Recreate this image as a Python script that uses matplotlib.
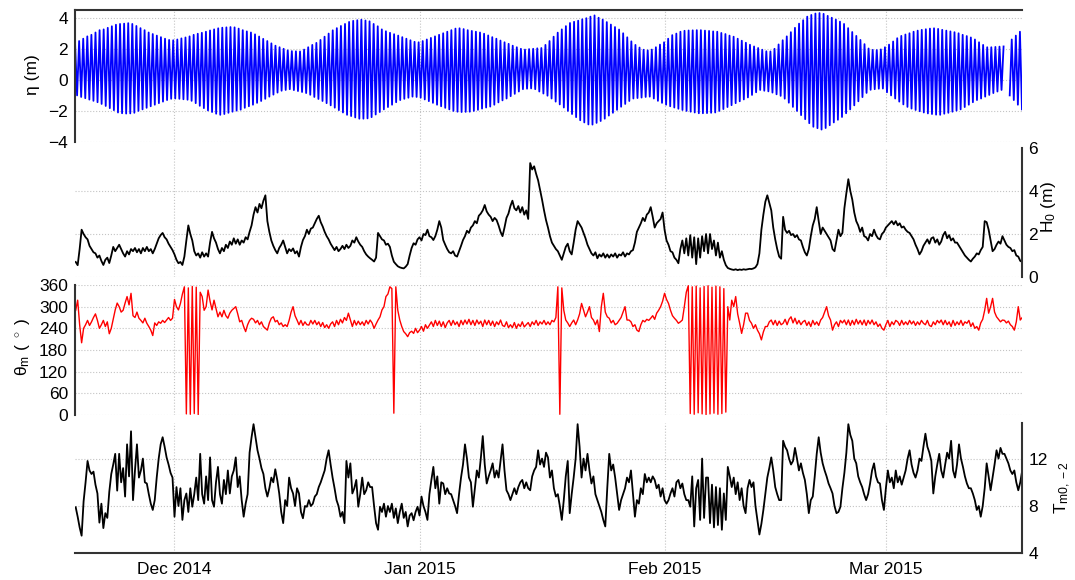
import numpy as np
import pandas as pd
import matplotlib
matplotlib.use('Agg')
import matplotlib.pyplot as plt
import matplotlib.dates as mdates

plt.rcParams['font.family'] = ['Liberation Sans', 'DejaVu Sans']
plt.rcParams['mathtext.fontset'] = 'custom'
plt.rcParams['mathtext.rm'] = 'Liberation Sans'
plt.rcParams['mathtext.it'] = 'Liberation Sans:italic'

# Tide: high and low water level of each tide (m), first high water 18 Nov 2014 10:00
tide_hw = [
    2.4, 2.5, 2.65, 2.8, 2.9, 3.05, 3.2, 3.25, 3.35, 3.45,
    3.55, 3.6, 3.62, 3.65, 3.6, 3.47, 3.33, 3.2, 3.05, 2.95,
    2.85, 2.75, 2.65, 2.57, 2.55, 2.6, 2.67, 2.73, 2.8, 2.9,
    2.97, 3.03, 3.1, 3.18, 3.25, 3.32, 3.36, 3.38, 3.4, 3.38,
    3.3, 3.2, 3.12, 3.05, 2.93, 2.79, 2.64, 2.5, 2.35, 2.2,
    2.1, 2.0, 1.9, 1.85, 1.84, 1.83, 1.95, 2.1, 2.25, 2.38,
    2.57, 2.78, 2.98, 3.19, 3.33, 3.47, 3.6, 3.73, 3.8, 3.84,
    3.87, 3.82, 3.77, 3.6, 3.45, 3.25, 3.13, 3.03, 2.94, 2.85,
    2.75, 2.65, 2.55, 2.45, 2.42, 2.5, 2.6, 2.7, 2.8, 2.9,
    3.0, 3.1, 3.2, 3.3, 3.32, 3.27, 3.2, 3.15, 3.1, 3.05,
    2.97, 2.86, 2.75, 2.65, 2.53, 2.42, 2.32, 2.2, 2.1, 2.0,
    1.95, 1.98, 2.0, 2.03, 2.05, 2.25, 2.5, 2.78, 3.04, 3.25,
    3.46, 3.66, 3.74, 3.81, 3.9, 3.97, 4.07, 4.15, 4.0, 3.88,
    3.72, 3.56, 3.4, 3.24, 3.0, 2.74, 2.48, 2.25, 2.08, 1.94,
    1.9, 1.95, 2.1, 2.27, 2.42, 2.65, 2.88, 2.98, 3.1, 3.16,
    3.18, 3.19, 3.2, 3.2, 3.17, 3.15, 3.12, 3.1, 3.02, 2.95,
    2.85, 2.78, 2.65, 2.52, 2.39, 2.26, 2.15, 2.05, 1.94, 1.84,
    1.83, 2.0, 2.28, 2.55, 2.8, 3.07, 3.35, 3.62, 3.84, 4.07,
    4.18, 4.27, 4.3, 4.25, 4.12, 4.0, 3.88, 3.75, 3.6, 3.33,
    3.08, 2.83, 2.57, 2.3, 2.02, 1.93, 1.92, 1.96, 2.1, 2.27,
    2.47, 2.68, 2.83, 2.92, 3.0, 3.1, 3.17, 3.22, 3.26, 3.3,
    3.32, 3.28, 3.22, 3.17, 3.12, 3.07, 3.0, 2.9, 2.82, 2.73,
    2.6, 2.42, 2.25, 2.1, 2.1, 2.12, 2.14, 2.15, np.nan, 2.6,
    2.85, 3.1]
tide_lw = [
    -1.0, -1.1, -1.18, -1.27, -1.35, -1.44, -1.55, -1.68, -1.82, -1.95,
    -2.1, -2.15, -2.17, -2.16, -2.12, -2.0, -1.9, -1.8, -1.7, -1.6,
    -1.5, -1.4, -1.3, -1.22, -1.2, -1.22, -1.25, -1.28, -1.35, -1.5,
    -1.67, -1.82, -1.97, -2.07, -2.18, -2.25, -2.2, -2.12, -2.05, -1.98,
    -1.92, -1.8, -1.7, -1.6, -1.48, -1.36, -1.22, -1.08, -0.95, -0.82,
    -0.7, -0.65, -0.6, -0.66, -0.72, -0.78, -0.85, -0.96, -1.1, -1.23,
    -1.36, -1.5, -1.64, -1.79, -1.95, -2.1, -2.25, -2.33, -2.42, -2.5,
    -2.5, -2.48, -2.4, -2.23, -2.07, -1.9, -1.75, -1.6, -1.44, -1.3,
    -1.22, -1.15, -1.08, -1.1, -1.15, -1.26, -1.37, -1.48, -1.6, -1.7,
    -1.8, -1.9, -2.0, -2.05, -2.07, -2.06, -2.05, -2.0, -1.93, -1.85,
    -1.78, -1.72, -1.6, -1.45, -1.32, -1.2, -1.05, -0.9, -0.75, -0.6,
    -0.57, -0.55, -0.6, -0.75, -0.88, -1.02, -1.2, -1.4, -1.58, -1.78,
    -2.0, -2.2, -2.4, -2.6, -2.74, -2.87, -2.88, -2.77, -2.65, -2.5,
    -2.3, -2.12, -1.93, -1.73, -1.55, -1.36, -1.2, -1.17, -1.14, -1.1,
    -1.08, -1.2, -1.35, -1.48, -1.6, -1.7, -1.78, -1.86, -1.94, -2.0,
    -2.05, -2.1, -2.15, -2.15, -2.14, -2.12, -2.1, -2.0, -1.88, -1.75,
    -1.63, -1.5, -1.38, -1.26, -1.13, -0.97, -0.8, -0.65, -0.7, -0.74,
    -0.82, -0.93, -1.03, -1.21, -1.47, -1.74, -2.0, -2.27, -2.53, -2.79,
    -3.02, -3.11, -3.2, -3.1, -2.92, -2.74, -2.57, -2.39, -2.15, -1.9,
    -1.64, -1.38, -1.11, -0.84, -0.64, -0.6, -0.57, -0.56, -0.8, -1.0,
    -1.2, -1.4, -1.58, -1.74, -1.85, -1.94, -2.02, -2.1, -2.16, -2.2,
    -2.24, -2.25, -2.18, -2.12, -2.05, -1.98, -1.9, -1.75, -1.6, -1.44,
    -1.3, -1.2, -1.08, -0.97, -0.85, -0.75, -0.65, np.nan, -1.0, -1.3,
    -1.6, -1.9]

# Wave height H0 (m), 6-hourly from 18 Nov 2014 12:00
h0 = [
    0.7, 0.55, 1.3, 2.2, 2.0, 1.85, 1.75, 1.45, 1.3, 1.15,
    1.1, 0.9, 1.0, 0.75, 0.56, 0.8, 0.9, 0.65, 1.0, 1.4,
    1.2, 1.35, 1.5, 1.3, 1.1, 0.95, 1.2, 1.05, 1.3, 1.2,
    1.35, 1.15, 1.3, 1.1, 1.35, 1.2, 1.4, 1.2, 1.3, 1.1,
    1.3, 1.55, 1.8, 1.95, 2.05, 1.85, 1.75, 1.55, 1.4, 1.25,
    1.05, 0.8, 0.64, 0.7, 0.56, 0.95, 1.7, 2.4, 2.0, 1.7,
    1.2, 1.0, 1.1, 0.9, 1.15, 0.95, 1.1, 0.95, 1.6, 2.1,
    1.8, 1.6, 1.3, 1.1, 1.35, 1.2, 1.5, 1.35, 1.65, 1.5,
    1.8, 1.55, 1.75, 1.5, 1.7, 1.6, 1.85, 1.75, 2.1, 2.4,
    2.9, 3.25, 3.0, 3.4, 3.2, 3.55, 3.8, 2.6, 2.1, 1.7,
    1.45, 1.25, 1.1, 1.35, 1.5, 1.7, 1.4, 1.1, 1.3, 1.2,
    1.33, 1.1, 1.2, 0.95, 1.4, 1.72, 1.9, 2.2, 2.0, 2.25,
    2.3, 2.5, 2.7, 2.85, 2.55, 2.35, 2.1, 1.9, 1.75, 1.55,
    1.4, 1.25, 1.4, 1.2, 1.3, 1.45, 1.3, 1.5, 1.35, 1.45,
    1.7, 1.6, 1.85, 1.65, 1.5, 1.4, 1.2, 1.05, 0.95, 0.87,
    0.8, 0.72, 0.9, 2.05, 1.9, 1.75, 1.7, 1.5, 1.55, 1.4,
    1.0, 0.71, 0.6, 0.5, 0.45, 0.42, 0.4, 0.48, 0.6, 1.0,
    1.35, 1.57, 1.5, 1.75, 1.85, 1.7, 2.0, 1.95, 2.2, 1.9,
    1.85, 1.72, 1.9, 2.2, 2.6, 2.3, 1.72, 1.5, 1.3, 1.15,
    1.1, 1.2, 1.0, 0.95, 1.2, 1.45, 1.72, 1.9, 2.15, 2.05,
    2.3, 2.4, 2.6, 2.5, 2.85, 2.95, 3.1, 3.35, 3.05, 2.9,
    2.8, 2.6, 2.75, 2.65, 2.4, 2.1, 1.9, 2.3, 2.75, 2.95,
    3.3, 3.55, 3.2, 3.1, 3.3, 3.0, 3.25, 2.9, 3.1, 2.7,
    5.3, 5.0, 5.15, 4.8, 4.5, 4.05, 3.6, 3.1, 2.65, 2.3,
    1.9, 1.6, 1.45, 1.3, 1.2, 1.0, 0.8, 1.1, 1.4, 1.55,
    1.2, 1.05, 1.6, 2.2, 2.6, 2.45, 2.3, 2.05, 1.8, 1.5,
    1.3, 1.1, 1.0, 1.15, 0.87, 1.05, 0.95, 1.1, 0.9, 1.05,
    0.9, 1.05, 0.95, 1.1, 0.9, 1.05, 1.0, 1.15, 0.95, 1.1,
    1.05, 1.2, 1.25, 1.6, 2.1, 2.3, 2.5, 2.75, 2.6, 2.9,
    3.0, 3.25, 2.8, 2.3, 2.5, 2.6, 2.7, 3.0, 2.2, 1.7,
    1.5, 1.2, 1.15, 0.9, 0.8, 0.64, 1.3, 1.7, 1.1, 1.8,
    1.0, 1.95, 0.9, 1.85, 0.6, 1.8, 0.9, 1.9, 1.2, 2.0,
    1.1, 2.0, 1.3, 1.7, 1.0, 1.6, 0.9, 1.2, 0.8, 0.55,
    0.42, 0.38, 0.35, 0.33, 0.36, 0.32, 0.35, 0.33, 0.36, 0.34,
    0.36, 0.38, 0.37, 0.4, 0.45, 0.6, 1.1, 2.2, 2.9, 3.5,
    3.8, 3.45, 3.1, 2.3, 1.75, 1.3, 0.95, 0.85, 2.8, 2.2,
    2.05, 2.15, 1.95, 2.0, 1.85, 1.95, 1.75, 1.7, 1.4, 1.15,
    1.0, 1.3, 1.9, 2.4, 2.7, 3.25, 2.6, 2.0, 2.3, 2.15,
    2.0, 1.85, 1.7, 1.3, 1.2, 1.7, 2.2, 1.9, 2.05, 3.2,
    3.9, 4.55, 4.0, 3.6, 3.0, 2.6, 2.4, 2.1, 2.3, 1.9,
    1.85, 1.7, 2.0, 1.9, 2.2, 1.95, 1.8, 1.75, 2.0, 2.1,
    2.3, 2.4, 2.5, 2.6, 2.45, 2.6, 2.4, 2.5, 2.3, 2.35,
    2.2, 2.1, 2.05, 1.9, 1.75, 1.5, 1.3, 1.05, 1.2, 1.45,
    1.6, 1.75, 1.55, 1.8, 1.85, 1.6, 1.75, 1.5, 1.65, 1.95,
    2.1, 1.8, 1.95, 1.7, 1.8, 1.6, 1.6, 1.45, 1.3, 1.15,
    1.0, 0.9, 0.8, 0.72, 0.85, 0.95, 1.1, 1.05, 1.25, 1.4,
    2.6, 2.55, 2.2, 1.7, 1.2, 1.3, 1.5, 1.65, 1.55, 1.9,
    1.7, 1.5, 1.4, 1.35, 1.2, 1.25, 1.0, 0.95, 0.75, 0.7]

# Mean wave direction (deg), same 6-hourly times
theta = [
    290, 318, 250, 200, 240, 250, 262, 248, 258, 270,
    280, 262, 240, 250, 262, 245, 258, 225, 240, 265,
    291, 310, 300, 285, 290, 310, 328, 305, 337, 275,
    270, 285, 268, 262, 255, 268, 254, 245, 235, 220,
    255, 248, 258, 254, 262, 256, 263, 270, 262, 268,
    320, 300, 291, 309, 335, 355, 3, 352, 2, 356,
    4, 354, 1, 340, 328, 290, 300, 346, 315, 291,
    318, 295, 272, 285, 272, 290, 275, 268, 282, 290,
    295, 300, 280, 258, 262, 245, 231, 250, 262, 268,
    265, 255, 262, 250, 258, 245, 240, 235, 255, 268,
    272, 258, 262, 250, 255, 245, 250, 245, 262, 285,
    300, 275, 263, 250, 262, 248, 258, 250, 249, 262,
    252, 262, 250, 258, 245, 256, 242, 250, 240, 252,
    258, 245, 262, 250, 265, 255, 270, 262, 282, 263,
    245, 262, 249, 260, 250, 258, 248, 262, 252, 263,
    255, 240, 252, 263, 272, 291, 300, 328, 335, 355,
    350, 5, 355, 290, 263, 245, 231, 225, 217, 228,
    232, 226, 240, 228, 235, 245, 232, 250, 240, 249,
    258, 245, 262, 248, 260, 245, 258, 242, 255, 262,
    248, 262, 250, 258, 245, 262, 250, 263, 252, 265,
    250, 262, 248, 263, 252, 260, 245, 263, 250, 262,
    248, 260, 245, 258, 250, 263, 248, 245, 258, 242,
    250, 242, 256, 240, 252, 245, 258, 244, 250, 256,
    245, 258, 250, 262, 248, 258, 252, 262, 250, 258,
    250, 262, 258, 270, 355, 2, 352, 290, 263, 255,
    245, 255, 263, 250, 263, 280, 309, 290, 272, 285,
    300, 270, 263, 250, 263, 231, 300, 337, 285, 272,
    268, 255, 262, 250, 254, 262, 270, 285, 300, 263,
    263, 258, 245, 250, 235, 231, 250, 262, 258, 265,
    262, 268, 275, 265, 282, 290, 300, 315, 337, 320,
    309, 290, 275, 268, 262, 254, 258, 263, 300, 340,
    358, 4, 355, 2, 357, 6, 352, 3, 356, 1,
    358, 3, 354, 5, 357, 2, 355, 4, 350, 8,
    300, 263, 318, 300, 328, 280, 254, 226, 250, 282,
    282, 262, 254, 240, 250, 235, 225, 208, 230, 245,
    245, 258, 263, 250, 262, 248, 260, 250, 254, 265,
    250, 265, 272, 255, 268, 252, 262, 250, 258, 262,
    248, 258, 245, 262, 250, 258, 248, 263, 270, 285,
    300, 275, 263, 235, 250, 258, 245, 262, 255, 263,
    250, 263, 248, 262, 250, 265, 252, 262, 250, 263,
    248, 262, 252, 263, 250, 258, 245, 252, 240, 235,
    250, 262, 245, 258, 250, 262, 258, 248, 262, 250,
    258, 250, 262, 252, 260, 248, 258, 250, 262, 254,
    250, 262, 248, 245, 258, 250, 262, 255, 263, 250,
    262, 250, 258, 245, 262, 248, 258, 250, 262, 248,
    258, 254, 262, 245, 255, 240, 245, 235, 255, 265,
    290, 323, 282, 300, 323, 285, 272, 265, 258, 263,
    262, 255, 260, 250, 245, 235, 258, 300, 263, 270]

# Wave period Tm0,-2 (s), same 6-hourly times
tm = [
    7.9, 7.1, 6.2, 5.5, 8.4, 10.0, 11.8, 11.0, 10.7, 10.9,
    9.8, 9.06, 6.6, 8.2, 6.14, 7.4, 7.0, 9.2, 10.7, 11.5,
    12.4, 9.3, 12.4, 10.0, 11.2, 8.8, 13.2, 10.5, 14.3, 8.5,
    11.0, 13.2, 10.4, 11.0, 12.0, 10.0, 9.9, 9.0, 8.2, 7.67,
    8.5, 10.4, 12.0, 13.2, 13.8, 13.0, 12.1, 11.5, 10.8, 10.4,
    7.1, 9.6, 8.0, 9.5, 6.83, 8.5, 9.06, 7.5, 9.5, 7.94,
    9.0, 10.4, 8.5, 12.4, 9.0, 8.2, 10.5, 8.5, 12.1, 8.5,
    7.94, 10.0, 11.3, 9.0, 8.2, 10.2, 9.0, 11.0, 9.06, 10.5,
    11.0, 12.1, 9.6, 10.5, 8.5, 7.1, 8.2, 9.0, 12.5, 13.8,
    14.9, 13.8, 12.7, 12.0, 11.2, 10.7, 9.5, 8.8, 9.5, 10.4,
    10.0, 11.1, 10.2, 9.06, 7.5, 6.56, 8.5, 8.0, 10.4, 9.5,
    9.06, 8.0, 9.5, 9.06, 7.5, 6.97, 8.0, 7.94, 8.5, 8.0,
    8.2, 8.8, 9.0, 9.6, 10.0, 10.5, 11.0, 12.0, 12.7, 11.5,
    10.4, 9.5, 8.5, 8.0, 7.1, 7.5, 6.56, 11.8, 10.4, 11.6,
    9.06, 9.5, 10.2, 7.94, 9.0, 10.4, 9.0, 9.33, 10.0, 9.6,
    9.6, 8.0, 6.56, 6.0, 7.94, 7.5, 8.2, 7.1, 8.0, 7.5,
    8.2, 7.0, 7.8, 6.56, 7.5, 8.2, 7.0, 7.5, 6.28, 7.2,
    7.4, 6.8, 7.5, 7.94, 7.2, 8.8, 8.0, 7.5, 6.83, 9.0,
    10.2, 11.3, 9.5, 10.5, 8.2, 10.0, 9.9, 9.0, 9.5, 9.06,
    9.0, 8.5, 8.0, 7.4, 9.0, 10.4, 11.5, 13.2, 12.0, 10.4,
    10.0, 7.94, 9.5, 11.0, 10.4, 12.0, 13.9, 11.5, 9.9, 10.5,
    11.0, 11.6, 10.4, 11.0, 10.4, 11.8, 13.2, 11.0, 9.33, 9.0,
    8.5, 9.0, 9.5, 9.0, 9.6, 10.0, 10.2, 9.5, 10.0, 9.5,
    9.33, 10.5, 11.0, 11.3, 12.7, 11.5, 12.0, 11.3, 12.5, 12.1,
    10.4, 11.0, 9.5, 8.8, 9.0, 8.0, 6.83, 8.5, 10.5, 11.8,
    7.4, 9.0, 10.4, 12.0, 14.9, 13.0, 10.4, 12.0, 11.0, 12.4,
    11.0, 9.9, 10.5, 9.0, 8.5, 8.0, 7.5, 6.83, 6.28, 9.5,
    12.4, 11.0, 11.5, 10.4, 9.0, 7.67, 8.5, 9.0, 9.5, 10.4,
    10.0, 11.0, 9.0, 7.1, 8.5, 8.2, 9.5, 9.0, 10.7, 10.0,
    10.4, 10.0, 10.5, 10.2, 9.5, 9.8, 8.8, 9.5, 8.5, 8.2,
    8.5, 9.06, 9.5, 8.8, 10.0, 10.2, 9.5, 9.9, 9.0, 8.5,
    8.5, 7.94, 10.5, 6.28, 9.5, 10.2, 6.83, 12.0, 7.0, 10.4,
    10.4, 6.56, 9.8, 6.2, 9.6, 6.4, 9.5, 6.0, 9.06, 6.83,
    11.3, 10.5, 9.6, 10.4, 9.0, 10.0, 8.5, 9.5, 8.0, 7.4,
    9.5, 10.2, 9.6, 10.0, 8.0, 6.83, 5.6, 6.5, 7.67, 9.0,
    10.4, 11.2, 12.1, 11.0, 9.6, 9.0, 8.5, 8.5, 13.5, 13.0,
    12.7, 12.0, 11.5, 11.8, 12.9, 12.0, 11.0, 11.6, 10.8, 10.2,
    9.0, 7.4, 8.5, 8.8, 10.5, 12.4, 13.8, 12.5, 11.6, 11.0,
    10.5, 9.9, 9.5, 9.06, 8.0, 7.4, 7.5, 7.94, 9.5, 10.8,
    12.5, 14.9, 14.0, 13.5, 12.0, 11.6, 10.5, 10.0, 9.6, 9.0,
    8.5, 9.0, 9.9, 11.0, 11.6, 10.5, 10.0, 9.9, 8.5, 7.67,
    9.5, 11.0, 10.0, 10.4, 9.5, 11.0, 10.0, 10.5, 9.8, 10.4,
    11.0, 12.0, 12.7, 11.5, 10.8, 10.4, 11.0, 12.0, 11.8, 13.0,
    14.1, 13.0, 12.5, 11.8, 9.06, 10.5, 11.5, 12.4, 11.0, 10.4,
    11.5, 12.5, 12.0, 13.5, 11.0, 10.4, 11.5, 13.2, 12.0, 11.3,
    10.5, 9.9, 9.5, 9.5, 9.06, 8.5, 7.67, 8.0, 7.1, 8.0,
    9.5, 11.6, 10.5, 9.33, 10.4, 11.5, 12.7, 12.0, 12.9, 12.4,
    12.4, 12.0, 11.6, 11.0, 10.7, 11.0, 10.0, 9.33, 10.0, 11.0]

# Step 1: time stamps
t_hw = pd.Timestamp('2014-11-18 10:00') + pd.to_timedelta(np.arange(len(tide_hw)) * 12.42, unit='h')
t_lw = t_hw + pd.Timedelta(hours=6.21)
n = len(tide_hw)
eta_t = np.empty(2 * n, dtype='datetime64[ns]')
eta_t[0::2] = t_hw.values
eta_t[1::2] = t_lw.values
eta = np.empty(2 * n)
eta[0::2] = tide_hw
eta[1::2] = tide_lw

t6 = pd.date_range('2014-11-18 12:00', periods=len(h0), freq='6h')

x0 = pd.Timestamp('2014-11-18 10:00')
x1 = pd.Timestamp('2015-03-18 04:00')
months = pd.date_range('2014-12-01', '2015-03-01', freq='MS')

grid_c = '#c4c4c4'
spine_c = '#333333'
fs = 12.5

# Step 2: four stacked panels
fig = plt.figure(figsize=(10.75, 5.8), dpi=100)
left, width = 0.0698, 0.8805
ax1 = fig.add_axes([left, 0.7552, width, 0.2276])
ax2 = fig.add_axes([left, 0.5224, width, 0.2224])
ax3 = fig.add_axes([left, 0.2845, width, 0.2241])
ax4 = fig.add_axes([left, 0.0457, width, 0.2250])


def style(ax, spines, ylim, yticks, ygrid, right=False):
    for s in ax.spines:
        ax.spines[s].set_visible(s in spines)
        ax.spines[s].set_color(spine_c)
        ax.spines[s].set_linewidth(1.5)
    ax.set_xlim(x0, x1)
    ax.set_ylim(*ylim)
    ax.set_yticks(yticks)
    ax.xaxis.set_major_locator(mdates.MonthLocator())
    ax.xaxis.set_major_formatter(mdates.DateFormatter('%b %Y'))
    ax.tick_params(length=0, labelsize=fs, pad=5)
    if right:
        ax.yaxis.tick_right()
    for m in months:
        ax.axvline(m, ls=':', color=grid_c, lw=0.8, zorder=0)
    for g in ygrid:
        ax.axhline(g, ls=':', color=grid_c, lw=0.8, zorder=0)


ax1.plot(eta_t, eta, color='#0000ff', lw=1.3)
style(ax1, ['top', 'left'], (-4, 4.5), [-4, -2, 0, 2, 4], [-4, -2, 0, 2, 4])

ax2.plot(t6, h0, color='black', lw=1.3)
style(ax2, ['right'], (0, 6), [0, 2, 4, 6], [0, 2, 4], right=True)

ax3.plot(t6, theta, color='#ff0000', lw=1.0)
style(ax3, ['left'], (0, 360), list(range(0, 361, 60)), list(range(0, 361, 60)))

ax4.plot(t6, tm, color='black', lw=1.3)
style(ax4, ['right', 'bottom'], (4, 15), [4, 8, 12], [8, 12], right=True)

for ax in (ax1, ax2, ax3):
    ax.tick_params(labelbottom=False)
ax4.tick_params(axis='x', pad=6)

# Step 3: axis labels
fig.text(0.0298, 0.8707, 'η (m)', rotation=90, ha='center', va='center', fontsize=fs)
fig.text(0.0205, 0.4017, r'θ$_\mathregular{m}$ ( $^\circ$ )', rotation=90, ha='center', va='center', fontsize=fs)
fig.text(0.975, 0.643, r'H$_\mathregular{0}$ (m)', rotation=90, ha='center', va='center', fontsize=fs)
fig.text(0.989, 0.159, r'T$_\mathregular{m0,-2}$', rotation=90, ha='center', va='center', fontsize=fs)

fig.savefig('out.png', dpi=100)
